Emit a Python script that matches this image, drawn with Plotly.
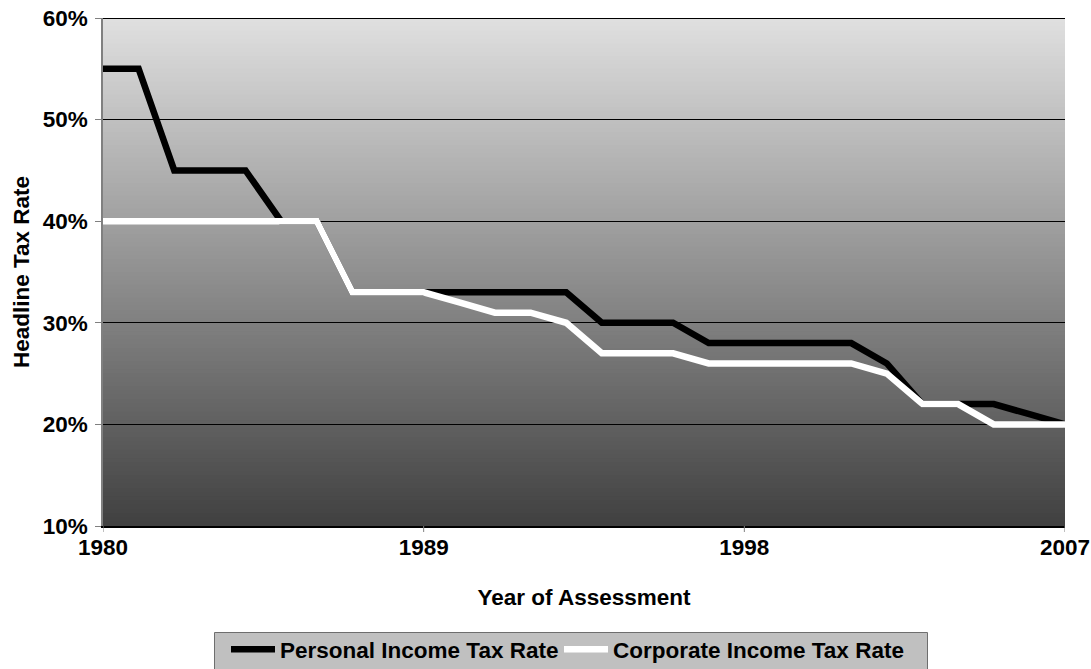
import plotly.graph_objects as go

years = list(range(1980, 2008))
personal_rate = [55, 55, 45, 45, 45, 40, 40, 33, 33, 33, 33, 33, 33, 33,
                 30, 30, 30, 28, 28, 28, 28, 28, 26, 22, 22, 22, 21, 20]
corporate_rate = [40, 40, 40, 40, 40, 40, 40, 33, 33, 33, 32, 31, 31, 30,
                  27, 27, 27, 26, 26, 26, 26, 26, 25, 22, 22, 20, 20, 20]
x_ticks = [1980, 1989, 1998, 2007]
y_ticks = [10, 20, 30, 40, 50, 60]

FONT = "Liberation Sans, Arial, sans-serif"
FS = 22.5

W, H = 1091, 669
L, R, T, B = 103, 26, 18, 143
PW, PH = W - L - R, H - T - B


def px_to_paper_x(px):
    return (px - L) / PW


def px_to_paper_y(py):
    return (H - B - py) / PH


fig = go.Figure()
fig.add_trace(go.Scatter(x=years, y=personal_rate, mode="lines",
                         name="<b>Personal Income Tax Rate</b>",
                         line=dict(color="#000000", width=6.5),
                         legend="legend"))
fig.add_trace(go.Scatter(x=years, y=corporate_rate, mode="lines",
                         name="<b>Corporate Income Tax Rate</b>",
                         line=dict(color="#ffffff", width=6.5),
                         legend="legend2"))

# vertical grey gradient behind the plot area
shapes = []
n = 120
top = (224, 224, 224)
bot = (64, 64, 64)
for i in range(n):
    t = (i + 0.5) / n
    c = tuple(int(round(bot[k] + (top[k] - bot[k]) * t)) for k in range(3))
    shapes.append(dict(type="rect", xref="x domain", yref="y domain",
                       x0=0, x1=1, y0=i / n, y1=min(1, (i + 1.6) / n),
                       fillcolor="rgb(%d,%d,%d)" % c, line=dict(width=0),
                       layer="below"))
# top border of the plot area
shapes.append(dict(type="line", xref="x domain", yref="y", x0=0, x1=1,
                   y0=60, y1=60, line=dict(color="#000000", width=2)))
# short tick marks hanging below the year axis
for yr in x_ticks:
    shapes.append(dict(type="line", xref="x", yref="paper", x0=yr, x1=yr,
                       y0=0, y1=-6 / PH, line=dict(color="#808080", width=1)))
# legend frame
shapes.append(dict(type="rect", xref="paper", yref="paper",
                   x0=px_to_paper_x(214.5), x1=px_to_paper_x(927.5),
                   y0=px_to_paper_y(669.5), y1=px_to_paper_y(632.5),
                   fillcolor="#c0c0c0", line=dict(color="#6e6e6e", width=1),
                   layer="above"))

legend_common = dict(orientation="h", xref="container", yref="container",
                     xanchor="left", y=1 - 628 / H, yanchor="top",
                     bgcolor="rgba(0,0,0,0)", borderwidth=0,
                     font=dict(family=FONT, size=FS, color="#000000"),
                     itemwidth=44)

fig.update_layout(
    width=W, height=H,
    margin=dict(l=L, r=R, t=T, b=B, autoexpand=False),
    paper_bgcolor="#ffffff", plot_bgcolor="#909090",
    font=dict(family=FONT, size=FS, color="#000000"),
    shapes=shapes,
    showlegend=True,
    legend=dict(x=226 / W, **legend_common),
    legend2=dict(x=559 / W, **legend_common),
    xaxis=dict(range=[1980, 2007], tickvals=x_ticks,
               ticktext=["<b>%d</b>" % v for v in x_ticks],
               automargin=False,
               showgrid=False, zeroline=False, showline=True,
               linecolor="#000000", linewidth=2,
               ticks="",
               tickfont=dict(family=FONT, size=FS, color="#000000"),
               title=dict(text="<b>Year of Assessment</b>", standoff=30,
                          font=dict(family=FONT, size=FS))),
    yaxis=dict(range=[10, 60], tickvals=y_ticks,
               ticktext=["<b>%d%%</b>" % v for v in y_ticks],
               automargin=False,
               showgrid=True, gridcolor="#000000", gridwidth=1,
               zeroline=False, showline=True, linecolor="#808080", linewidth=1.5,
               ticks="outside", ticklen=6, tickcolor="#808080",
               ticklabelstandoff=3,
               tickfont=dict(family=FONT, size=FS, color="#000000"),
               title=dict(text="<b>Headline Tax Rate</b>", standoff=7,
                          font=dict(family=FONT, size=FS))),
)

fig.write_html("out.html")
